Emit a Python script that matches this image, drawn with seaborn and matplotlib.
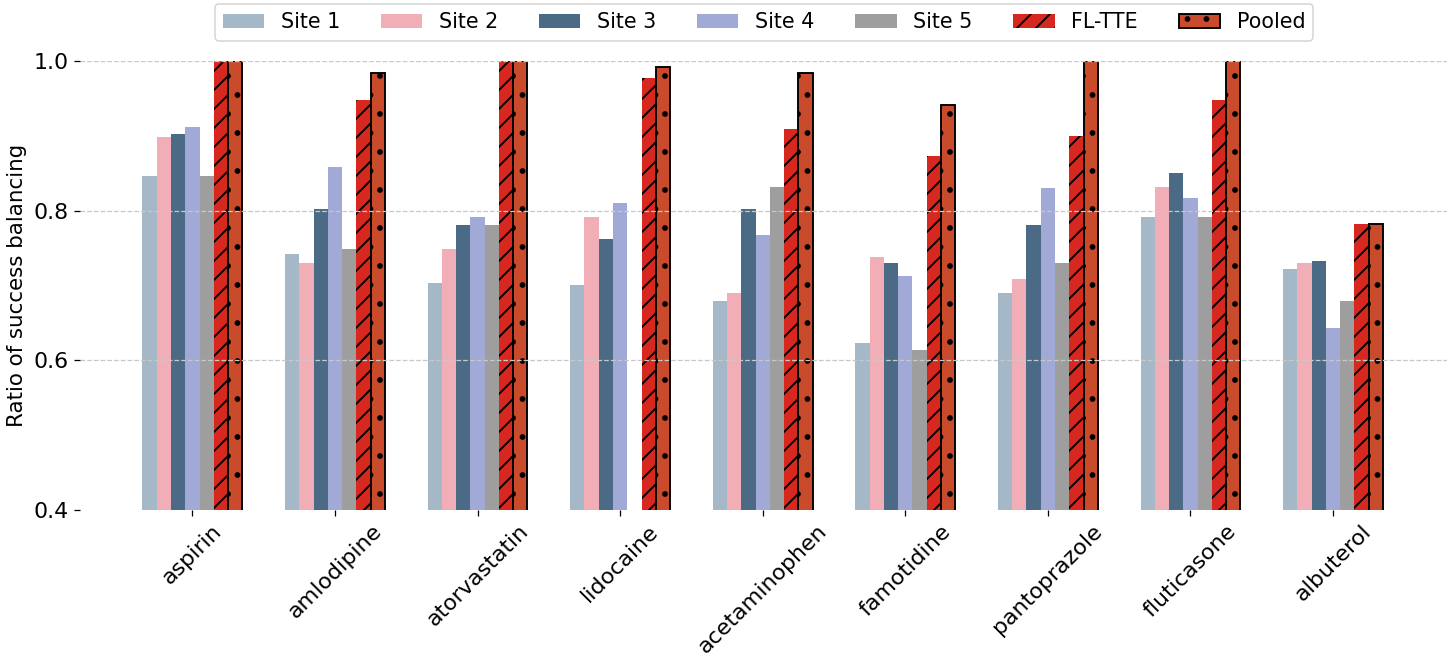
import numpy as np
import pandas as pd
import matplotlib
matplotlib.use("Agg")
import matplotlib.pyplot as plt
import seaborn as sns

# drugs on the x axis
drugs = ["aspirin", "amlodipine", "atorvastatin", "lidocaine", "acetaminophen",
         "famotidine", "pantoprazole", "fluticasone", "albuterol"]
methods = ["Site 1", "Site 2", "Site 3", "Site 4", "Site 5", "FL-TTE", "Pooled"]

# ratio of success balancing, one list per method
site1 = [0.846, 0.743, 0.703, 0.701, 0.680, 0.623, 0.690, 0.792, 0.722]
site2 = [0.899, 0.730, 0.749, 0.792, 0.690, 0.739, 0.709, 0.832, 0.730]
site3 = [0.903, 0.802, 0.781, 0.762, 0.802, 0.730, 0.781, 0.851, 0.733]
site4 = [0.912, 0.859, 0.792, 0.811, 0.768, 0.713, 0.830, 0.817, 0.644]
site5 = [0.846, 0.749, 0.781, np.nan, 0.832, 0.614, 0.730, 0.792, 0.680]
fl_tte = [1.0, 0.948, 1.0, 0.978, 0.910, 0.874, 0.900, 0.948, 0.783]
pooled = [1.0, 0.985, 1.0, 0.992, 0.985, 0.941, 1.0, 1.0, 0.783]

colors = ["#a5b8c7", "#f2aeb6", "#4a6a86", "#a1a9d6", "#9e9e9e", "#d7281f", "#c94b2b"]

series = [site1, site2, site3, site4, site5, fl_tte, pooled]
df = pd.DataFrame({
    "drug": np.tile(drugs, len(methods)),
    "method": np.repeat(methods, len(drugs)),
    "ratio": np.concatenate(series),
})

DPI = 114
plt.rcParams["hatch.linewidth"] = 1.2
fig, ax = plt.subplots(figsize=(1450 / DPI, 659 / DPI), dpi=DPI)
fig.subplots_adjust(left=0.055, right=0.998, top=0.907, bottom=0.226)

sns.barplot(data=df, x="drug", y="ratio", hue="method", order=drugs,
            hue_order=methods, palette=dict(zip(methods, colors)),
            saturation=1, width=0.7, legend=False, ax=ax)

# hatch FL-TTE and Pooled bars
for cont, m in zip(ax.containers, methods):
    for p in cont.patches:
        p.set_linewidth(0)
        if m == "FL-TTE":
            p.set_hatch("//")
            p.set_edgecolor("black")
            p.set_linewidth(0)
        elif m == "Pooled":
            p.set_hatch(".")
            p.set_edgecolor("black")
            p.set_linewidth(1.2)

ax.set_ylim(0.4, 1.0)
ax.set_xlim(-0.79, 8.8)
ax.set_yticks([0.4, 0.6, 0.8, 1.0])
ax.set_xlabel("")
ax.set_ylabel("Ratio of success balancing", fontsize=13.5)
ax.tick_params(axis="both", labelsize=14)
plt.setp(ax.get_xticklabels(), rotation=45)

ax.set_axisbelow(False)
ax.grid(axis="y", linestyle="--", color="#c8c8c8", linewidth=0.8)
ax.yaxis.get_gridlines()[0].set_visible(False)
sns.despine(ax=ax, left=True, bottom=True)

ax.legend(ax.containers, methods, loc="upper center", ncol=7, fontsize=13,
          bbox_to_anchor=(0.527, 1.0), bbox_transform=fig.transFigure,
          borderaxespad=0.2)

fig.savefig("out.png", dpi=DPI)
